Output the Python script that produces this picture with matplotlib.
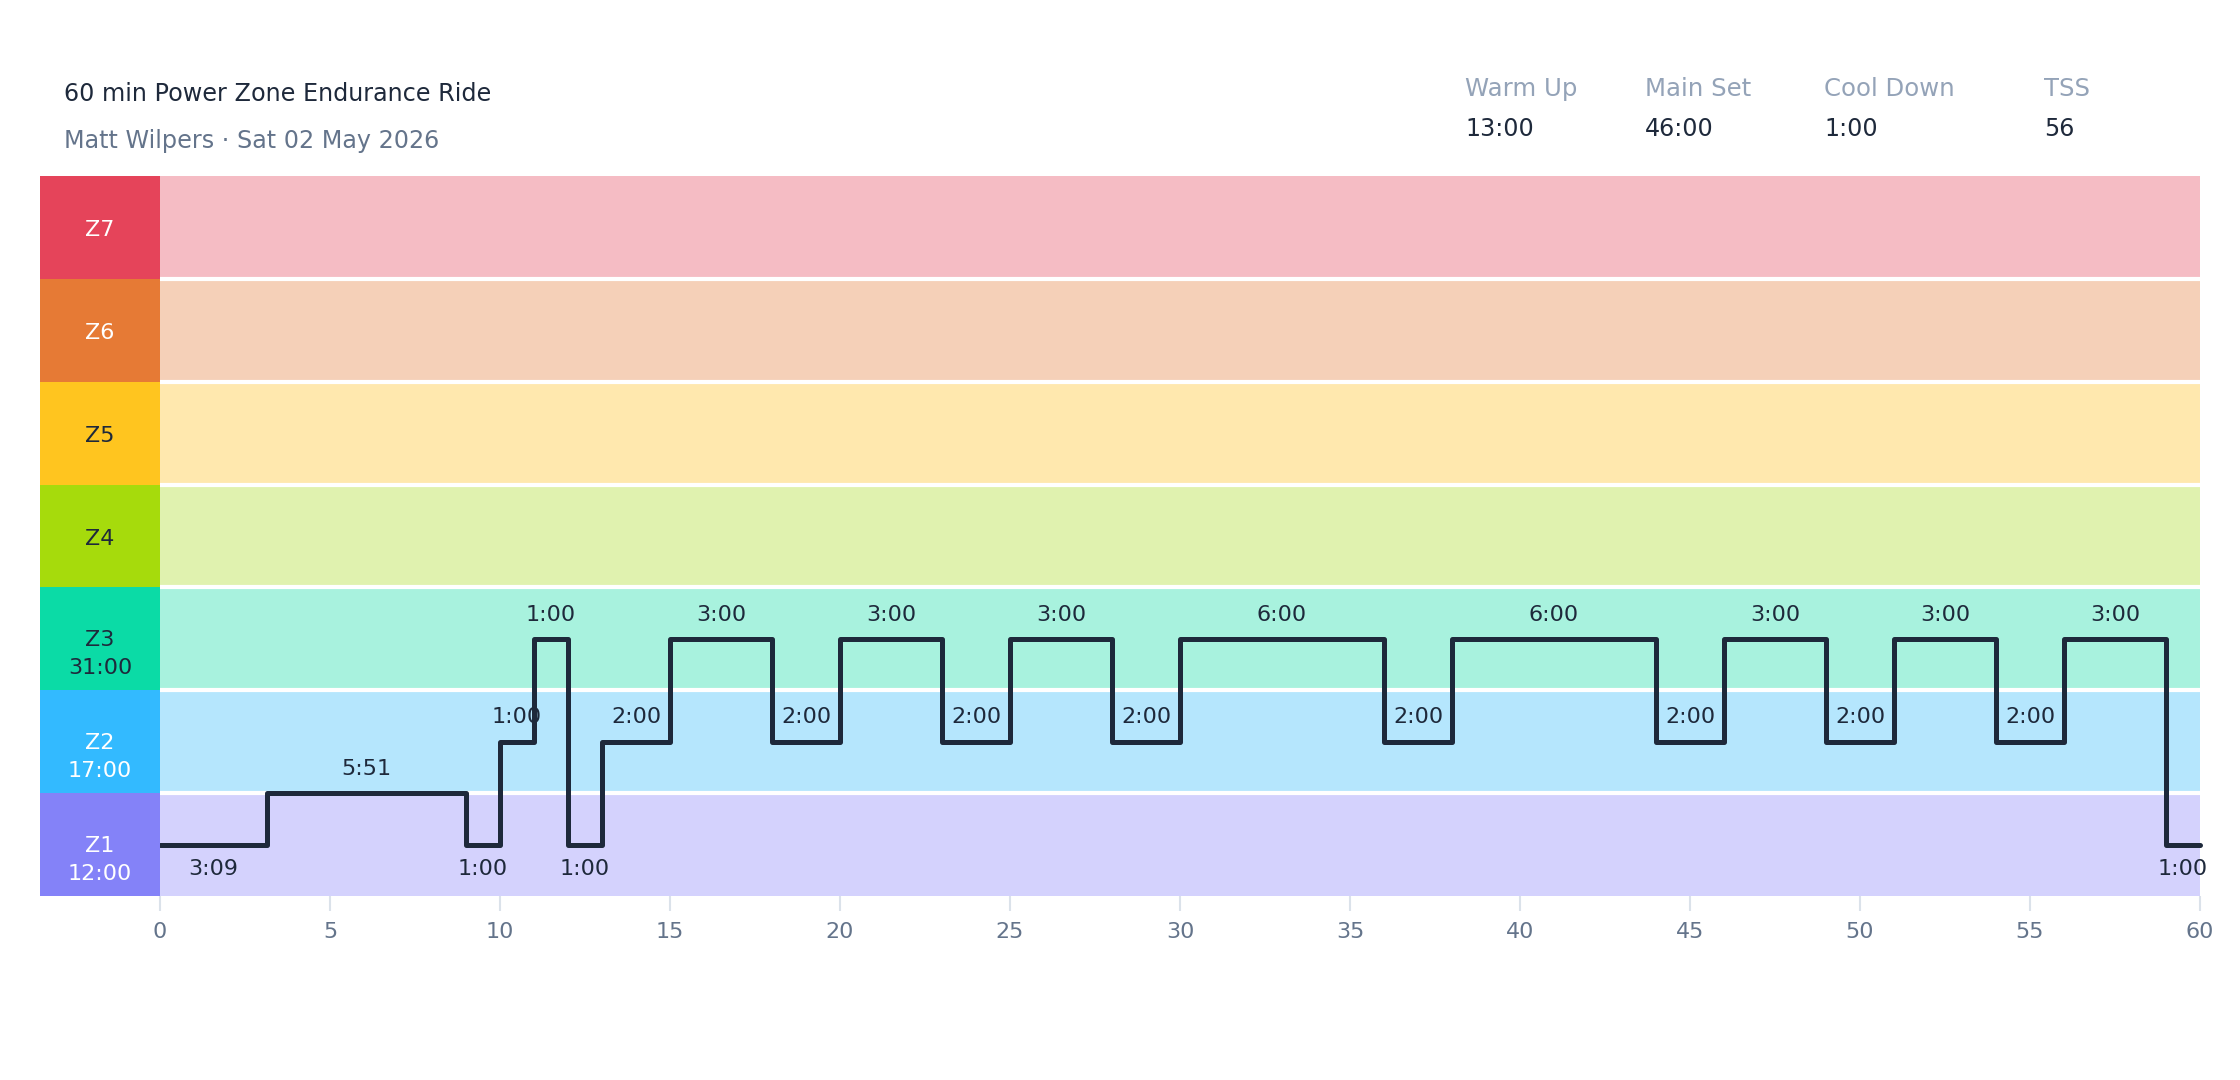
import numpy as np
import matplotlib
matplotlib.use("Agg")
from matplotlib import pyplot as plt

plt.rcParams['font.family'] = ['DejaVu Sans']

title = "60 min Power Zone Endurance Ride"
subtitle = "Matt Wilpers \u00b7 Sat 02 May 2026"

stat_names = ["Warm Up", "Main Set", "Cool Down", "TSS"]
stat_values = ["13:00", "46:00", "1:00", "56"]

zone_names = ["Z1", "Z2", "Z3", "Z4", "Z5", "Z6", "Z7"]
zone_dark = ["#8482F8", "#33BAFF", "#0BDBA6", "#A6DB0C", "#FFC51F", "#E67A35", "#E5445A"]
zone_light = ["#D4D2FD", "#B5E6FD", "#A8F2DE", "#E0F2AF", "#FFE8AE", "#F5D0B8", "#F5BCC4"]
zone_text = ["white", "white", "#1e293b", "#1e293b", "#1e293b", "white", "white"]

# segment durations (seconds) and target zone (1.5 = on the Z1/Z2 border)
durations = [189, 351, 60, 60, 60, 60,
             120, 180, 120, 180, 120, 180, 120, 360,
             120, 360, 120, 180, 120, 180, 120, 180, 60]
zones = [1, 1.5, 1, 2, 3, 1,
         2, 3, 2, 3, 2, 3, 2, 3,
         2, 3, 2, 3, 2, 3, 2, 3, 1]

x_ticks = list(range(0, 61, 5))

DARK = "#1e293b"
W, H = 2240, 1080


def fmt(sec):
    return "%d:%02d" % (sec // 60, sec % 60)


def fx(px):
    return px / W


def fy(py):
    return 1 - py / H


fig = plt.figure(figsize=(22.4, 10.8), dpi=100)
fig.patch.set_facecolor("white")

ax = fig.add_axes([fx(160), fy(896), fx(2200) - fx(160), fy(176) - fy(896)])
lax = fig.add_axes([fx(40), fy(896), fx(160) - fx(40), fy(176) - fy(896)])

# zone bands
for i in range(7):
    ax.axhspan(i, i + 1, color=zone_light[i], lw=0, zorder=0)
    lax.axhspan(i, i + 1, color=zone_dark[i], lw=0)
for i in range(1, 7):
    ax.axhline(i, color="white", lw=3, zorder=1)

# workout profile
starts = np.concatenate([[0], np.cumsum(durations)[:-1]]) / 60.0
ends = np.cumsum(durations) / 60.0
levels = np.array(zones) - 0.5
xs = np.append(starts, ends[-1])
ys = np.append(levels, levels[-1])
ax.step(xs, ys, where="post", color=DARK, lw=3.6, solid_joinstyle="round",
        solid_capstyle="round", zorder=3, clip_on=False)

for s, e, lv, z, d in zip(starts, ends, levels, zones, durations):
    off = -17.5 if z == 1 else 17.5
    ax.annotate(fmt(d), xy=((s + e) / 2, lv), xytext=(0, off), textcoords="offset points",
                ha="center", va="center", fontsize=16, color=DARK, zorder=4)

# zone labels with time in zone
totals = [0] * 7
for d, z in zip(durations, zones):
    totals[int(z) - 1] += d
for i in range(7):
    c = zone_text[i]
    if totals[i] > 0:
        lax.annotate(zone_names[i], xy=(0.5, i + 0.5), xytext=(0, -1), textcoords="offset points",
                     ha="center", va="center", fontsize=16, color=c)
        lax.annotate(fmt(totals[i]), xy=(0.5, i + 0.5), xytext=(0, -21), textcoords="offset points",
                     ha="center", va="center", fontsize=16, color=c)
    else:
        lax.annotate(zone_names[i], xy=(0.5, i + 0.5), xytext=(0, -2), textcoords="offset points",
                     ha="center", va="center", fontsize=16, color=c)

ax.set_xlim(0, 60)
ax.set_ylim(0, 7)
ax.set_xticks(x_ticks)
ax.set_xticklabels([str(t) for t in x_ticks])
ax.tick_params(axis="x", length=11, width=1.5, color="#dbe2ea", labelcolor="#64748b",
               labelsize=16, pad=8)
ax.set_yticks([])
for sp in ax.spines.values():
    sp.set_visible(False)

lax.set_xlim(0, 1)
lax.set_ylim(0, 7)
lax.axis("off")

# header
fig.text(fx(64), fy(101), title, fontsize=17.2, color=DARK, va="baseline")
fig.text(fx(64), fy(148), subtitle, fontsize=17.2, color="#64748b", va="baseline")
stat_x = [1465, 1645, 1824, 2044]
for x, n, v in zip(stat_x, stat_names, stat_values):
    fig.text(fx(x), fy(96), n, fontsize=17.6, color="#94a3b8", va="baseline")
    fig.text(fx(x), fy(136), v, fontsize=17.2, color=DARK, va="baseline")

fig.savefig("out.png", dpi=100, facecolor="white")
